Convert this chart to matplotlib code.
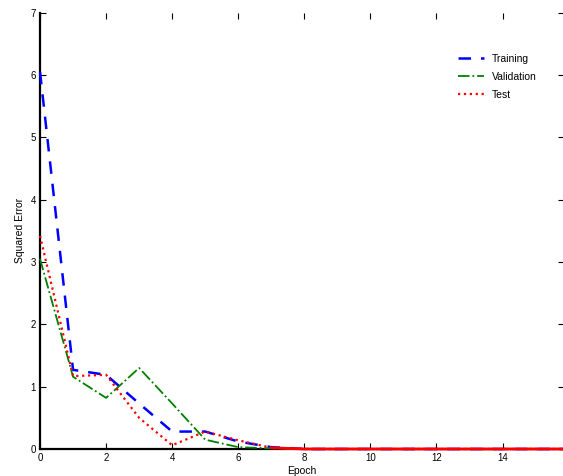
import numpy as np
import matplotlib
matplotlib.use("Agg")
import matplotlib.pyplot as plt

plt.rcParams['font.family'] = ['Liberation Sans', 'DejaVu Sans']

# performance per epoch
epochs = list(range(17))
training = [6.05, 1.27, 1.19, 0.73, 0.28, 0.28, 0.12, 0.03, 0, 0, 0, 0, 0, 0, 0, 0, 0]
validation = [3.05, 1.16, 0.82, 1.30, 0.73, 0.15, 0.03, 0.01, 0, 0, 0, 0, 0, 0, 0, 0, 0]
test = [3.42, 1.17, 1.19, 0.50, 0.06, 0.28, 0.14, 0.02, 0, 0, 0, 0, 0, 0, 0, 0, 0]

fig = plt.figure(figsize=(5.63, 4.76), dpi=100)
ax = fig.add_axes([0.0711, 0.0567, 0.93, 0.9166])

ax.plot(epochs, training, color='blue', ls=(0, (5, 4)), lw=1.8, label='Training',
        clip_on=False, zorder=3)
ax.plot(epochs, validation, color='green', ls='-.', lw=1.3, label='Validation',
        clip_on=False, zorder=3)
ax.plot(epochs, test, color='red', ls=':', lw=1.6, label='Test',
        clip_on=False, zorder=3)
# flat tail drawn solid over the x axis, as in the original
ax.plot(epochs[7:], test[7:], color='red', lw=2, clip_on=False, zorder=4)

ax.set_xlim(0, 15.85)
ax.set_ylim(0, 7)
ax.set_xticks([0, 2, 4, 6, 8, 10, 12, 14])
ax.set_yticks(range(8))
ax.tick_params(direction='in', length=4, labelsize=7, top=True, right=True, pad=3)
for s in ['top', 'right']:
    ax.spines[s].set_visible(False)
ax.spines['left'].set_linewidth(1.6)
ax.spines['bottom'].set_linewidth(1.6)

ax.set_xlabel('Epoch', fontsize=7.5, labelpad=2)
ax.set_ylabel('Squared Error', fontsize=7.5, labelpad=4)

ax.legend(loc='upper left', bbox_to_anchor=(0.79, 0.915), frameon=False,
          fontsize=7.5, handlelength=2.5, labelspacing=0.75, borderaxespad=0)

fig.savefig('out.png', dpi=100)
